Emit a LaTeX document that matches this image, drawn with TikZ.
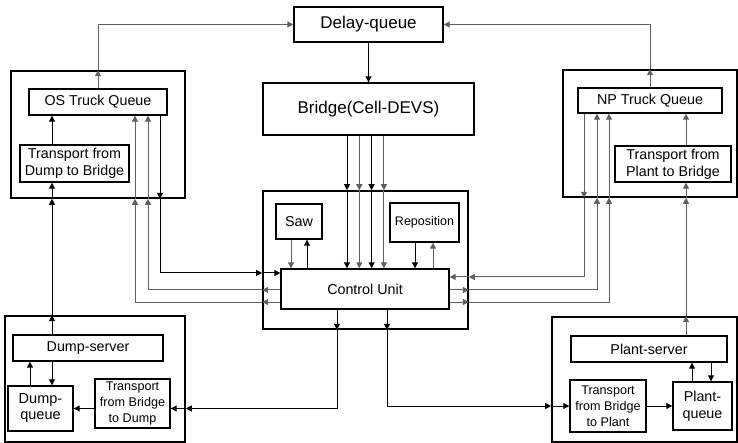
\documentclass[tikz,border=0pt]{standalone}
\usepackage{fontspec}
\setmainfont{Liberation Sans}
\usetikzlibrary{arrows.meta, positioning, calc}
\definecolor{wiregray}{RGB}{95,95,95}

\begin{document}
\begin{tikzpicture}[
        x=1pt, y=-1pt,
        box/.style={rectangle, draw=black, line width=1.4pt, fill=white, inner sep=0pt, align=center, font=\fontsize{14.3}{17}\selectfont},
        bigbox/.style={box, font=\fontsize{17}{19}\selectfont},
        smallbox/.style={box, font=\fontsize{12.6}{16}\selectfont},
        group/.style={rectangle, draw=black, line width=1.6pt, inner sep=0pt},
        arr/.style={-{Triangle[length=6pt,width=6pt]}, line width=1pt},
        gwire/.style={arr, draw=wiregray}
    ]
    \useasboundingbox (0,0) rectangle (738,443);

    % group frames
    \node[group, minimum width=174pt, minimum height=127pt] (osbox) at (98,134.5) {};
    \node[group, minimum width=174pt, minimum height=127pt] (npbox) at (650,133.5) {};
    \node[group, minimum width=205pt, minimum height=138pt] (cbox) at (365.5,260) {};
    \node[group, minimum width=180pt, minimum height=126pt] (dbox) at (95,379) {};
    \node[group, minimum width=185pt, minimum height=125pt] (pbox) at (644.5,379.5) {};

    % top
    \node[bigbox, minimum width=149pt, minimum height=35pt] (delay) at (368.5,24.5) {Delay-queue};
    \node[bigbox, minimum width=211pt, minimum height=52pt] (bridge) at (368.5,109) {Bridge(Cell-DEVS)};

    % OS side
    \node[box, minimum width=138pt, minimum height=26pt] (osq) at (98,102) {OS Truck Queue};
    \node[box, minimum width=109pt, minimum height=37pt] (tdb) at (74.5,163.5) {Transport from\\Dump to Bridge};

    % NP side
    \node[box, minimum width=144pt, minimum height=25pt] (npq) at (650,100.5) {NP Truck Queue};
    \node[box, minimum width=116pt, minimum height=36pt] (tpb) at (673,164) {Transport from\\Plant to Bridge};

    % control
    \node[box, minimum width=46pt, minimum height=35pt] (saw) at (299,221.5) {Saw};
    \node[box, minimum width=69pt, minimum height=39pt, font=\fontsize{12.5}{15}\selectfont] (repo) at (424.5,222.5) {Reposition};
    \node[box, minimum width=168pt, minimum height=40pt] (cu) at (365,289) {Control Unit};

    % dump
    \node[box, minimum width=150pt, minimum height=26pt] (dserver) at (88,348) {Dump-server};
    \node[box, minimum width=65pt, minimum height=45pt, font=\fontsize{14.5}{16}\selectfont] (dq) at (40.5,408.5) {Dump-\\queue};
    \node[smallbox, minimum width=75pt, minimum height=49pt] (tbd) at (132.5,403.5) {Transport\\from Bridge\\to Dump};

    % plant
    \node[box, minimum width=156pt, minimum height=26pt] (pserver) at (649,349) {Plant-server};
    \node[smallbox, minimum width=76pt, minimum height=52pt] (tbp) at (608,406) {Transport\\from Bridge\\to Plant};
    \node[box, minimum width=59pt, minimum height=48pt] (pq) at (702.5,406) {Plant-\\queue};

    % delay-queue links
    \draw[arr] (delay) -- (bridge);
    \draw[gwire] (osq) -- (osq |- osbox.north);
    \draw[gwire] (osq |- osbox.north) |- (delay);
    \draw[gwire] (npq) -- (npq |- npbox.north);
    \draw[gwire] (npq |- npbox.north) |- (delay);

    % bridge to control unit
    \foreach \d/\c [count=\i] in {-21.5/black, -9.2/wiregray, 3.1/black, 15.4/wiregray} {
        \coordinate (bl\i) at ($(bridge.south)+(\d,0)$);
        \draw[arr, draw=\c] (bl\i) -- (bl\i |- cbox.north);
        \draw[arr, draw=\c] (bl\i |- cbox.north) -- (bl\i |- cu.north);
    }

    % saw and reposition
    \draw[gwire] ($(saw.south)+(-8,0)$) -- ($(saw.south |- cu.north)+(-8,0)$);
    \draw[arr] ($(saw.south |- cu.north)+(8,0)$) -- ($(saw.south)+(8,0)$);
    \draw[arr] ($(repo.south)+(-9.5,0)$) -- ($(repo.south |- cu.north)+(-9.5,0)$);
    \draw[gwire] ($(repo.south |- cu.north)+(8.5,0)$) -- ($(repo.south)+(8.5,0)$);

    % OS truck queue <-> control unit
    \coordinate (oa) at ($(osq.south)+(62,0)$);
    \coordinate (ca) at ($(cu.west)+(0,-16)$);
    \draw[arr] (oa) -- (oa |- osbox.south);
    \draw[arr] (oa |- osbox.south) |- (ca -| cbox.west);
    \draw[arr] (ca -| cbox.west) -- (ca);
    \foreach \ox/\cy [count=\i] in {50/1, 37/13} {
        \coordinate (ob\i) at ($(osq.south)+(\ox,0)$);
        \coordinate (cb\i) at ($(cu.west)+(0,\cy)$);
        \draw[gwire] (cb\i) -- (cb\i -| cbox.west);
        \draw[gwire] (cb\i -| cbox.west) -| (ob\i |- osbox.south);
        \draw[gwire] (ob\i |- osbox.south) -- (ob\i);
    }

    % NP truck queue <-> control unit
    \coordinate (na) at ($(npq.south)+(-66,0)$);
    \coordinate (cn) at ($(cu.east)+(0,-12)$);
    \draw[gwire] (na) -- (na |- npbox.south);
    \draw[gwire] (na |- npbox.south) |- (cn -| cbox.east);
    \draw[gwire] (cn -| cbox.east) -- (cn);
    \foreach \nx/\cy [count=\i] in {-53/1, -41/13} {
        \coordinate (nb\i) at ($(npq.south)+(\nx,0)$);
        \coordinate (cm\i) at ($(cu.east)+(0,\cy)$);
        \draw[gwire] (cm\i) -- (cm\i -| cbox.east);
        \draw[gwire] (cm\i -| cbox.east) -| (nb\i |- npbox.south);
        \draw[gwire] (nb\i |- npbox.south) -- (nb\i);
    }

    % control unit to the transports
    \coordinate (cd) at ($(cu.south)+(-28,0)$);
    \draw[arr] (cd) -- (cd |- cbox.south);
    \draw[arr] (cd |- cbox.south) |- (dq -| dbox.east);
    \draw[arr] (dq -| dbox.east) -- (dq -| tbd.east);
    \draw[arr] (dq -| tbd.west) -- (dq);
    \coordinate (cp) at ($(cu.south)+(22,0)$);
    \draw[arr] (cp) -- (cp |- cbox.south);
    \draw[arr] (cp |- cbox.south) |- (tbp -| pbox.west);
    \draw[arr] (tbp -| pbox.west) -- (tbp);
    \draw[arr] (tbp) -- (pq);

    % dump
    \coordinate (du) at ($(dq.north)+(-10.5,0)$);
    \coordinate (dl) at ($(dq.north)+(11.5,0)$);
    \draw[arr] (du) -- (du |- dserver.south);
    \draw[arr] (dl |- dserver.south) -- (dl);
    \draw[arr] (dl |- dserver.north) -- (dl |- dbox.north);
    \draw[arr] (dl |- dbox.north) -- (dl |- osbox.south);
    \draw[arr] (dl |- osbox.south) -- (dl |- tdb.south);
    \draw[arr] (dl |- tdb.north) -- (dl |- osq.south);

    % plant
    \coordinate (pu) at ($(pq.north)+(-10.5,0)$);
    \coordinate (pd) at ($(pq.north)+(8.5,0)$);
    \coordinate (pl) at ($(tpb.south)+(13,0)$);
    \draw[arr] (pu) -- (pu |- pserver.south);
    \draw[arr] (pd |- pserver.south) -- (pd);
    \draw[gwire] (pl |- pserver.north) -- (pl |- pbox.north);
    \draw[gwire] (pl |- pbox.north) -- (pl |- npbox.south);
    \draw[gwire] (pl |- npbox.south) -- (pl);
    \draw[gwire] (pl |- tpb.north) -- (pl |- npq.south);
\end{tikzpicture}
\end{document}
